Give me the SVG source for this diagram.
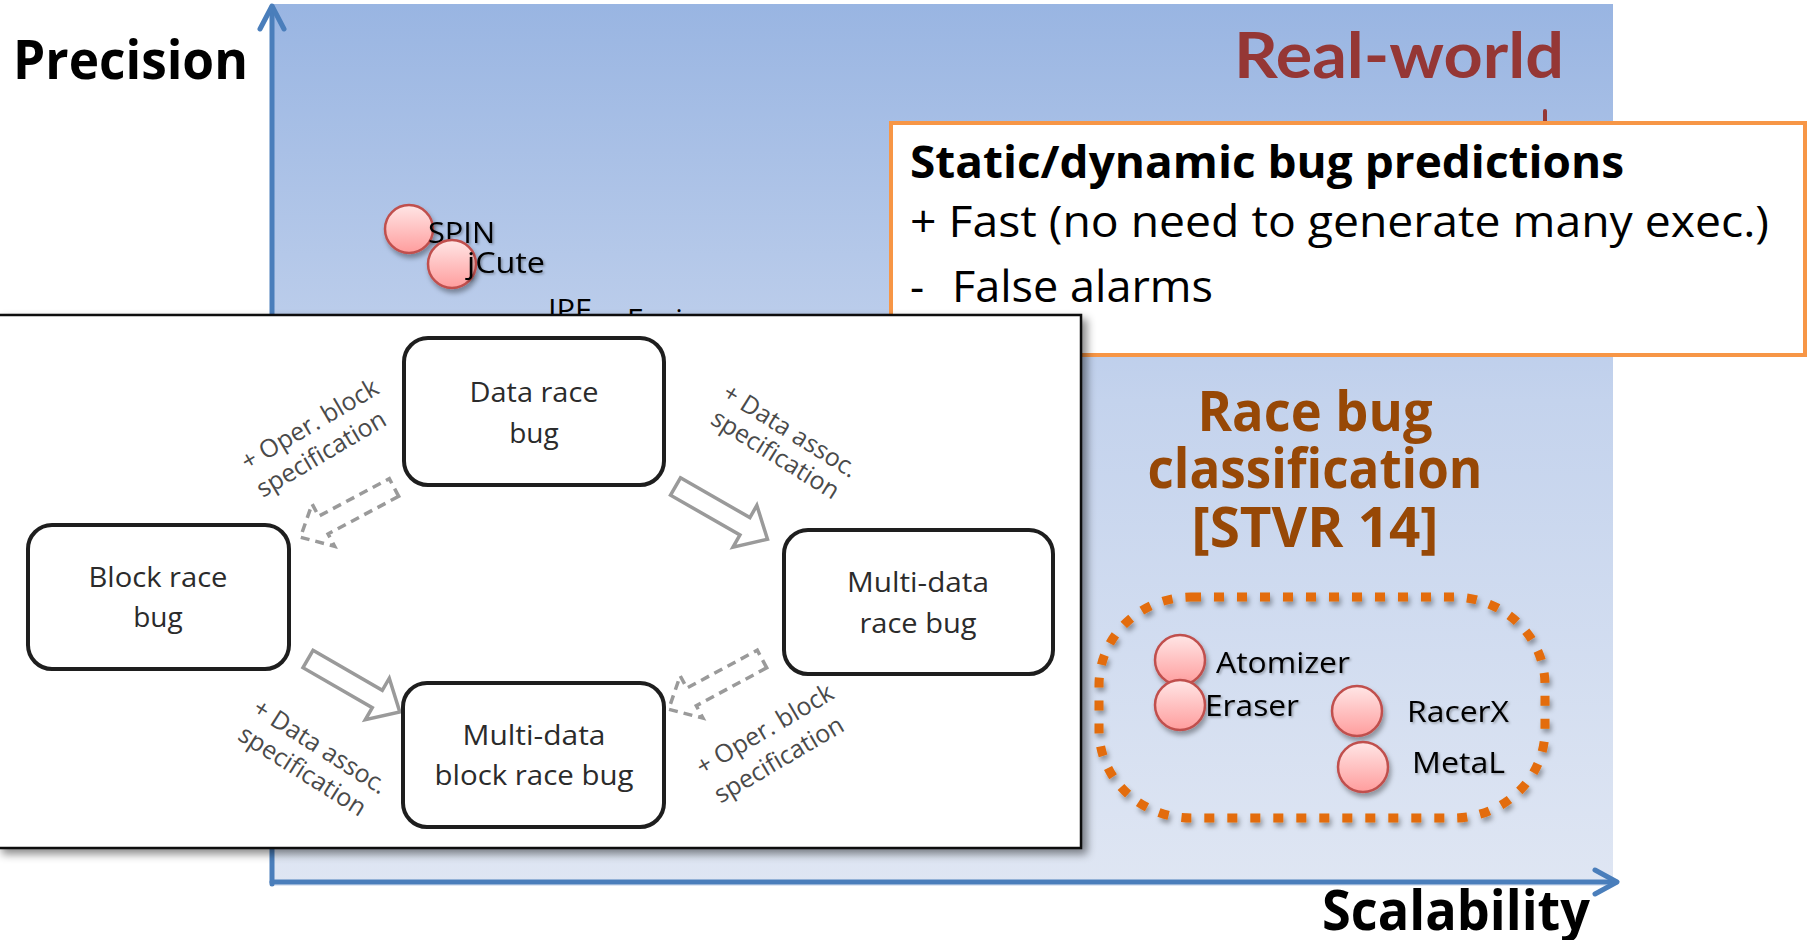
<svg xmlns="http://www.w3.org/2000/svg" width="1814" height="940" viewBox="0 0 1814 940">
  <defs>
    <linearGradient id="bgGrad" x1="0" y1="0" x2="0" y2="1">
      <stop offset="0" stop-color="#99b5e2"/>
      <stop offset="0.45" stop-color="#c4d3ed"/>
      <stop offset="1" stop-color="#dfe6f3"/>
    </linearGradient>
    <linearGradient id="dotGrad" x1="0" y1="0" x2="0" y2="1">
      <stop offset="0" stop-color="#ffe6e6"/>
      <stop offset="1" stop-color="#ff9d9d"/>
    </linearGradient>
    <filter id="softShadow" x="-30%" y="-30%" width="160%" height="160%">
      <feDropShadow dx="2" dy="4" stdDeviation="2.5" flood-color="#000" flood-opacity="0.35"/>
    </filter>
    <filter id="panelShadow" x="-5%" y="-5%" width="110%" height="110%">
      <feDropShadow dx="5" dy="5" stdDeviation="4" flood-color="#000" flood-opacity="0.45"/>
    </filter>
    <filter id="textShadow" x="-10%" y="-20%" width="120%" height="140%">
      <feDropShadow dx="1.5" dy="1.5" stdDeviation="1" flood-color="#000" flood-opacity="0.3"/>
    </filter>
    <!-- hollow block arrow, tail centre at origin, pointing along +x -->
    <path id="blockArrow" d="M0,-10 H80 V-24 L106,0 L80,24 V10 H0 Z"/>
  </defs>
  <style>
    .axis { stroke:#4a7ebb; stroke-width:5; fill:none; stroke-linecap:round; stroke-linejoin:round; }
    .big { font-family:"Open Sans","Noto Sans",sans-serif; font-weight:700; fill:#000; }
    .boxtext { font-family:"Open Sans","Noto Sans",sans-serif; font-size:44px; fill:#000; }
    .tool { font-family:"Open Sans","Noto Sans",sans-serif; font-size:30px; fill:#000; }
    .dot { fill:url(#dotGrad); stroke:#c0504d; stroke-width:2.5; filter:url(#softShadow); }
    .class { font-family:"Open Sans","Noto Sans",sans-serif; font-weight:700; font-size:56px; fill:#974806; text-anchor:middle; }
    .node rect { fill:#fff; stroke:#1e1e1e; stroke-width:4; }
    .ntext { font-family:"Open Sans","Noto Sans",sans-serif; font-size:28px; fill:#2b2b2b; text-anchor:middle; }
    .lbl { font-family:"Open Sans","Noto Sans",sans-serif; font-size:25px; fill:#4a4a4a; text-anchor:middle; }
    .blk { fill:#fff; stroke:#9a9a9a; stroke-width:3.5; stroke-linejoin:miter; }
    .dash { stroke-dasharray:9 6; }
  </style>

  <!-- chart background -->
  <rect x="272" y="4" width="1341" height="882" fill="url(#bgGrad)"/>

  <!-- axes -->
  <g id="axes">
    <line class="axis" x1="272" y1="884" x2="272" y2="7"/>
    <polyline class="axis" points="260,29 272,6 284,29"/>
    <line class="axis" x1="272" y1="882" x2="1616" y2="882"/>
    <polyline class="axis" points="1595,870 1617,882 1595,894"/>
  </g>
  <text class="big" x="13" y="79" font-size="54" textLength="235" lengthAdjust="spacingAndGlyphs">Precision</text>
  <text class="big" x="1322" y="930" font-size="56" textLength="268" lengthAdjust="spacingAndGlyphs">Scalability</text>

  <!-- tools plotted in the upper area -->
  <g id="tool-spin">
    <circle class="dot" cx="409" cy="229" r="24"/>
    <text class="tool" x="428" y="243" filter="url(#textShadow)" textLength="67" lengthAdjust="spacingAndGlyphs">SPIN</text>
  </g>
  <g id="tool-jcute">
    <circle class="dot" cx="452" cy="264" r="24"/>
    <text class="tool" x="467" y="273" filter="url(#textShadow)" textLength="78" lengthAdjust="spacingAndGlyphs">jCute</text>
  </g>
  <text class="tool" x="548" y="320" textLength="43" lengthAdjust="spacingAndGlyphs">IPF</text>
  <text class="tool" x="627" y="330">Fusion</text>

  <!-- real-world heading -->
  <text x="1234" y="78" font-family="Lato,'Liberation Sans',sans-serif" font-weight="700" font-size="64" fill="#953735" textLength="330" lengthAdjust="spacingAndGlyphs">Real-world</text>
  <line x1="1545" y1="111" x2="1545" y2="122" stroke="#953735" stroke-width="4" stroke-linecap="round"/>

  <!-- bug prediction note -->
  <g id="note-prediction">
    <rect x="891" y="123" width="914" height="232" fill="#fff" stroke="#f79646" stroke-width="4"/>
    <text class="boxtext" x="910" y="178" font-weight="700" textLength="714" lengthAdjust="spacingAndGlyphs">Static/dynamic bug predictions</text>
    <text class="boxtext" x="910" y="237" textLength="859" lengthAdjust="spacingAndGlyphs">+ Fast (no need to generate many exec.)</text>
    <text class="boxtext" x="910" y="302">-</text>
    <text class="boxtext" x="952" y="302" textLength="261" lengthAdjust="spacingAndGlyphs">False alarms</text>
  </g>

  <!-- race bug classification -->
  <g id="classification">
    <text class="class" x="1315" y="431" textLength="235" lengthAdjust="spacingAndGlyphs">Race bug</text>
    <text class="class" x="1315" y="488" textLength="335" lengthAdjust="spacingAndGlyphs">classification</text>
    <text class="class" x="1315" y="547" textLength="247" lengthAdjust="spacingAndGlyphs">[STVR 14]</text>
  </g>

  <!-- dotted group of lock-set tools -->
  <g id="tool-group">
    <rect x="1099" y="597" width="446" height="221" rx="92" ry="88" fill="none" stroke="#e36c09" stroke-width="9" stroke-dasharray="10 13" filter="url(#softShadow)"/>
    <g id="tool-atomizer">
      <circle class="dot" cx="1180" cy="660" r="25"/>
      <text class="tool" x="1216" y="673" filter="url(#textShadow)" textLength="134" lengthAdjust="spacingAndGlyphs">Atomizer</text>
    </g>
    <g id="tool-eraser">
      <circle class="dot" cx="1180" cy="705" r="25"/>
      <text class="tool" x="1205" y="716" filter="url(#textShadow)" textLength="94" lengthAdjust="spacingAndGlyphs">Eraser</text>
    </g>
    <g id="tool-racerx">
      <circle class="dot" cx="1357" cy="711" r="25"/>
      <text class="tool" x="1407" y="722" filter="url(#textShadow)" textLength="102" lengthAdjust="spacingAndGlyphs">RacerX</text>
    </g>
    <g id="tool-metal">
      <circle class="dot" cx="1363" cy="767" r="25"/>
      <text class="tool" x="1412" y="773" filter="url(#textShadow)" textLength="93" lengthAdjust="spacingAndGlyphs">MetaL</text>
    </g>
  </g>

  <!-- classification diagram panel -->
  <rect x="-2" y="315" width="1083" height="533" fill="#fff" stroke="#111" stroke-width="2.5" filter="url(#panelShadow)"/>

  <g id="connectors">
    <use href="#blockArrow" class="blk" transform="translate(675.5,486.5) rotate(29.8)"/>
    <use href="#blockArrow" class="blk dash" transform="translate(394,487.5) rotate(152)"/>
    <use href="#blockArrow" class="blk" transform="translate(308,659) rotate(30)"/>
    <use href="#blockArrow" class="blk dash" transform="translate(762,659) rotate(151.7)"/>
  </g>

  <g id="node-data-race" class="node">
    <rect x="404" y="338" width="260" height="147" rx="24"/>
    <text class="ntext" x="534" y="402" textLength="129" lengthAdjust="spacingAndGlyphs">Data race</text>
    <text class="ntext" x="534" y="443">bug</text>
  </g>
  <g id="node-block-race" class="node">
    <rect x="28" y="525" width="261" height="144" rx="24"/>
    <text class="ntext" x="158" y="587" textLength="139" lengthAdjust="spacingAndGlyphs">Block race</text>
    <text class="ntext" x="158" y="627">bug</text>
  </g>
  <g id="node-multi-data-race" class="node">
    <rect x="784" y="530" width="269" height="144" rx="24"/>
    <text class="ntext" x="918" y="592" textLength="142" lengthAdjust="spacingAndGlyphs">Multi-data</text>
    <text class="ntext" x="918" y="633" textLength="117" lengthAdjust="spacingAndGlyphs">race bug</text>
  </g>
  <g id="node-multi-data-block" class="node">
    <rect x="403" y="683" width="261" height="144" rx="24"/>
    <text class="ntext" x="534" y="745" textLength="143" lengthAdjust="spacingAndGlyphs">Multi-data</text>
    <text class="ntext" x="534" y="785" textLength="199" lengthAdjust="spacingAndGlyphs">block race bug</text>
  </g>

  <!-- transition labels -->
  <g id="labels">
    <g transform="translate(310,425) rotate(-30.5)">
      <text class="lbl" x="0" y="8">+ Oper. block</text>
      <text class="lbl" x="-5" y="39">specification</text>
    </g>
    <g transform="translate(790,431) rotate(32)">
      <text class="lbl" x="0" y="8">+ Data assoc.</text>
      <text class="lbl" x="0" y="36">specification</text>
    </g>
    <g transform="translate(320,747) rotate(32.5)">
      <text class="lbl" x="0" y="8">+ Data assoc.</text>
      <text class="lbl" x="-2" y="38">specification</text>
    </g>
    <g transform="translate(765,730) rotate(-30.5)">
      <text class="lbl" x="0" y="8">+ Oper. block</text>
      <text class="lbl" x="-3" y="41">specification</text>
    </g>
  </g>
</svg>
